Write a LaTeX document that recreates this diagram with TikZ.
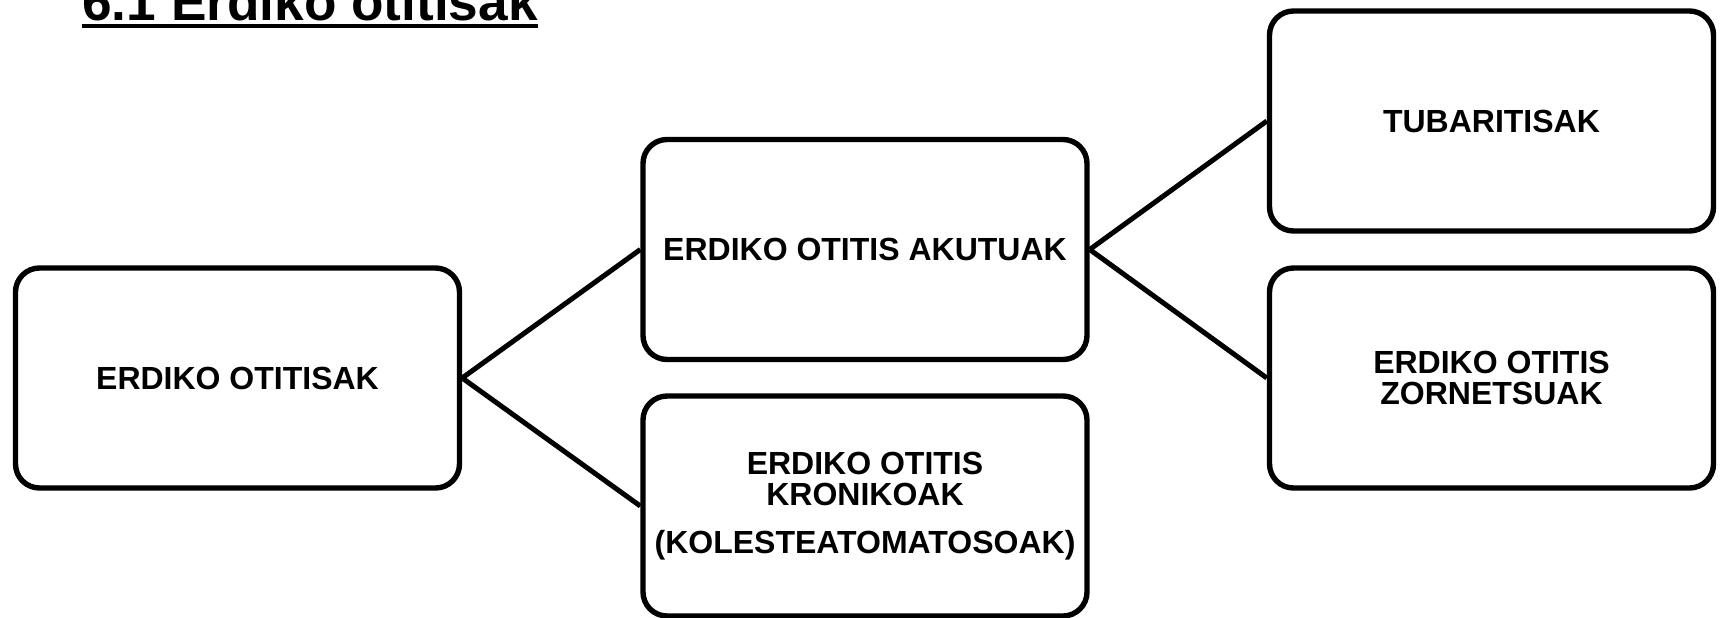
\documentclass[tikz,border=0pt]{standalone}
\usepackage{fontspec}
\setmainfont{Liberation Sans}
\begin{document}
\begin{tikzpicture}[x=0.5pt,y=-0.5pt,
  box/.style={draw, line width=2.7pt, rounded corners=12pt, minimum width=222pt, minimum height=110pt,
    align=center, inner sep=0pt, font=\fontsize{16}{15.6}\selectfont\bfseries},
  conn/.style={line width=2.5pt}]
\useasboundingbox (0,0) rectangle (1723,617);
\node[anchor=base west, inner sep=0pt, font=\fontsize{26.6}{30}\selectfont\bfseries] (title) at (82,20) {6.1 Erdiko otitisak};
\draw[line width=1.6pt] ([yshift=-3pt]title.base west) -- ([yshift=-3pt]title.base east);
\node[box] (a) at (237.5,378) {ERDIKO OTITISAK};
\node[box] (b) at (865,249.5) {ERDIKO OTITIS AKUTUAK};
\node[box] (c) at (865,506) {ERDIKO OTITIS\\KRONIKOAK\\[8pt](KOLESTEATOMATOSOAK)};
\node[box] (d) at (1491.5,121) {TUBARITISAK};
\node[box] (e) at (1491.5,378) {ERDIKO OTITIS\\ZORNETSUAK};
\draw[conn] (a.east) -- (b.west);
\draw[conn] (a.east) -- (c.west);
\draw[conn] (b.east) -- (d.west);
\draw[conn] (b.east) -- (e.west);
\end{tikzpicture}
\end{document}
